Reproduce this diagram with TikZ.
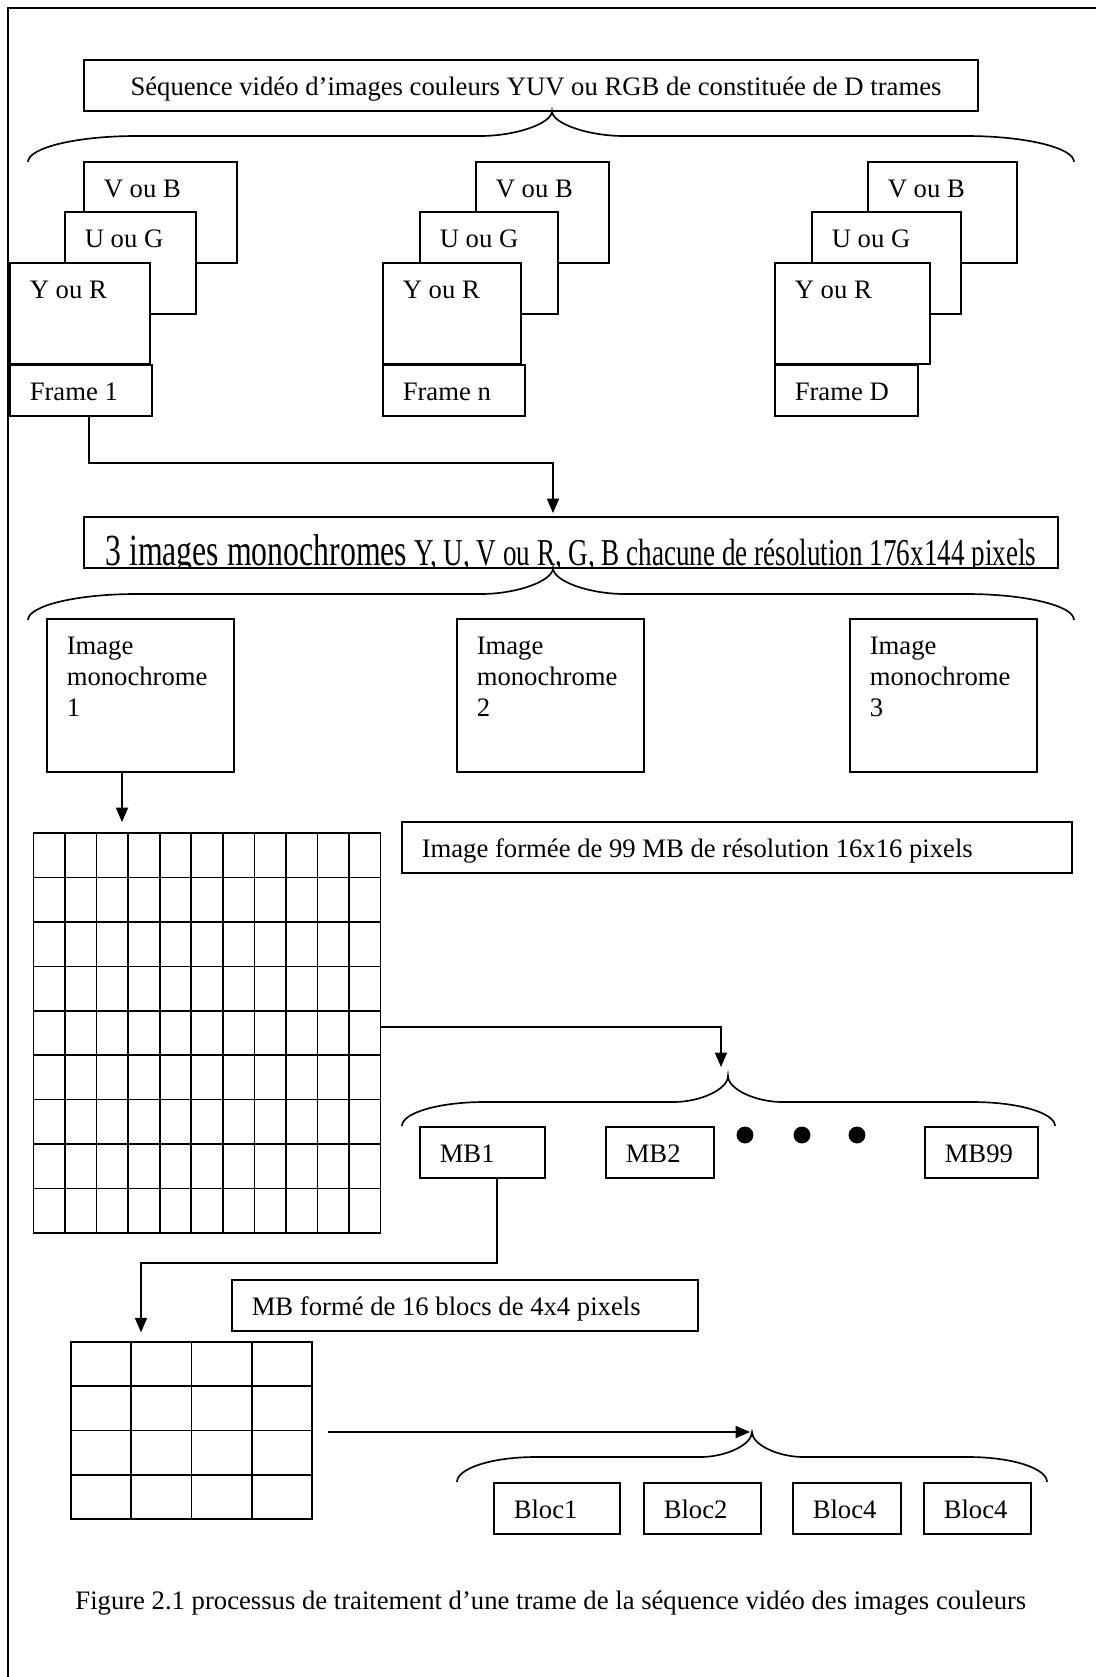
\documentclass[tikz,border=0pt]{standalone}
\usepackage{fontspec}
\setmainfont{Liberation Serif}
\usepackage{graphicx}
\usetikzlibrary{arrows.meta, fit}
\definecolor{traitColor}{RGB}{0, 0, 0}
\tikzset{
    boite_cadre/.style={
        draw=traitColor,
        fill=white,
        line width=0.6pt,
        inner sep=0pt
    },
    boite_texte/.style={
        anchor=base west,
        inner sep=0pt,
        font=\fontsize{12pt}{13.95pt}\selectfont
    },
    fleche/.style={
        -{Triangle[length=6.5pt, width=5.5pt]},
        line width=0.5pt,
        draw=traitColor
    },
    accolade_trait/.style={
        line width=0.75pt,
        draw=traitColor
    },
    grille_trait/.style={
        line width=0.75pt,
        draw=traitColor
    },
    point_noir/.style={
        circle,
        fill=traitColor,
        inner sep=0pt,
        minimum size=7.6pt
    }
}
% boite : nom, coin haut gauche, coin bas droit, texte
\newcommand{\boite}[4]{%
    \node[boite_cadre, fit={(#2) (#3)}] (#1) {};
    \node[boite_texte] (#1_t) at ([shift={(20,36)}]#1.north west) {#4};}
% accolade : gauche, pointe, droite, y pointe, y milieu, y bouts
\newcommand{\accolade}[6]{%
    \pgfmathsetmacro{\acBoutG}{40+0.13*(#2-#1)}%
    \pgfmathsetmacro{\acPointeG}{25+0.09*(#2-#1)}%
    \pgfmathsetmacro{\acBoutD}{40+0.13*(#3-#2)}%
    \pgfmathsetmacro{\acPointeD}{25+0.09*(#3-#2)}%
    \draw[accolade_trait] (#1,#6)
        .. controls (#1,{#5+0.45*(#6-#5)}) and ({#1+0.45*\acBoutG},#5) .. ({#1+\acBoutG},#5)
        -- ({#2-\acPointeG},#5)
        .. controls ({#2-0.5*\acPointeG},#5) and (#2,{#5-0.5*(#5-#4)}) .. (#2,#4)
        .. controls (#2,{#5-0.5*(#5-#4)}) and ({#2+0.5*\acPointeD},#5) .. ({#2+\acPointeD},#5)
        -- ({#3-\acBoutD},#5)
        .. controls ({#3-0.45*\acBoutD},#5) and (#3,{#5+0.45*(#6-#5)}) .. (#3,#6);}

\begin{document}
\begin{tikzpicture}[x=0.45pt, y=-0.45pt]
    \useasboundingbox (0,0) rectangle (1095,1677);
    % cadre de la page
    \draw[line width=0.6pt, draw=traitColor] (8,1690) -- (8,8) -- (1110,8);

    % sequence video
    \node[boite_cadre, fit={(84,60) (978,111)}] (sequence) {};
    \node[boite_texte, anchor=base] (sequence_t) at (536,95) {Séquence vidéo d’images couleurs YUV ou RGB de constituée de D trames};
    \accolade{28}{552}{1074}{111}{136}{162}

    % trames
    \boite{v1}{84,162}{237,263}{V ou B}
    \boite{u1}{65,212}{196,314}{U ou G}
    \boite{y1}{10,263}{150,364}{Y ou R}
    \boite{frame1}{10,365}{152,416}{Frame 1}

    \boite{vn}{476,162}{609,263}{V ou B}
    \boite{un}{420,212}{558,314}{U ou G}
    \boite{yn}{383,263}{521,364}{Y ou R}
    \boite{framen}{383,365}{525,416}{Frame n}

    \boite{vd}{868,162}{1017,263}{V ou B}
    \boite{ud}{812,212}{961,314}{U ou G}
    \boite{yd}{775,263}{930,364}{Y ou R}
    \boite{framed}{775,365}{918,416}{Frame D}

    % images monochromes
    \node[boite_cadre, fit={(84,517) (1058,568)}] (monos) {};
    \begin{scope}
        \clip (85,518) rectangle (1057,567);
        \node[boite_texte] (monos_t) at (105,565) {\scalebox{1}[1.4]{\fontsize{14.3pt}{16pt}\selectfont 3 images monochromes\fontsize{12.2pt}{14pt}\selectfont{} Y, U, V ou R, G, B chacune de résolution 176x144 pixels}};
    \end{scope}

    \coordinate (coude1) at (89,463);
    \coordinate (coude2) at (553,463);
    \draw[fleche, shorten >=1.5pt] (frame1.south -| coude1) -- (coude1) -- (coude2) -- (coude2 |- monos.north);

    \accolade{28}{553}{1074}{568}{594}{620}

    \node[boite_cadre, fit={(47,619) (234,772)}] (mono1) {};
    \node[boite_texte, anchor=north west, align=left] (mono1_t) at ([shift={(20,18.5)}]mono1.north west) {Image\\monochrome\\1};
    \node[boite_cadre, fit={(457,619) (644,772)}] (mono2) {};
    \node[boite_texte, anchor=north west, align=left] (mono2_t) at ([shift={(20,18.5)}]mono2.north west) {Image\\monochrome\\2};
    \node[boite_cadre, fit={(850,619) (1037,772)}] (mono3) {};
    \node[boite_texte, anchor=north west, align=left] (mono3_t) at ([shift={(20,18.5)}]mono3.north west) {Image\\monochrome\\3};

    % grille des 99 MB
    \node[boite_cadre, line width=0.75pt, fit={(33.5,833) (380.5,1233)}] (grille) {};
    \foreach \i in {1,...,10}
        \draw[grille_trait] ({33.5+31.55*\i},833) -- ({33.5+31.55*\i},1233);
    \foreach \j in {1,...,8}
        \draw[grille_trait] (33.5,{833+44.44*\j}) -- (380.5,{833+44.44*\j});

    \coordinate (coude3) at (122,822);
    \draw[fleche] (mono1.south -| coude3) -- (coude3);

    \boite{formee}{402,822}{1072,873}{Image formée de 99 MB de résolution 16x16 pixels}

    \coordinate (coude4) at (721,1027);
    \coordinate (pointe4) at (721,1067);
    \draw[fleche] (grille.east |- coude4) -- (coude4) -- (pointe4);

    \accolade{402}{728}{1055}{1076}{1102}{1126}

    \boite{mb1}{420,1127}{545,1178}{MB1}
    \boite{mb2}{606,1127}{714,1178}{MB2}
    \boite{mb99}{925,1127}{1038,1178}{MB99}
    \node[point_noir] (p1) at (745,1135) {};
    \node[point_noir] (p2) at (802,1135) {};
    \node[point_noir] (p3) at (857,1135) {};

    % grille des 16 blocs
    \node[boite_cadre, line width=0.75pt, fit={(71,1342) (312,1519)}] (petit) {};
    \foreach \i in {1,...,3}
        \draw[grille_trait] ({71+60.25*\i},1342) -- ({71+60.25*\i},1519);
    \foreach \j in {1,...,3}
        \draw[grille_trait] (71,{1342+44.25*\j}) -- (312,{1342+44.25*\j});

    \coordinate (coude5) at (497,1263);
    \coordinate (coude6) at (141,1263);
    \draw[fleche, shorten >=4pt] (mb1.south -| coude5) -- (coude5) -- (coude6) -- (coude6 |- petit.north);

    \boite{mbforme}{232,1280}{698,1331}{MB formé de 16 blocs de 4x4 pixels}

    \coordinate (pointe_bloc) at (750,1432);
    \draw[fleche, shorten <=6.75pt] (petit.east |- pointe_bloc) -- (pointe_bloc);

    \accolade{457}{752}{1047}{1432}{1457}{1482}

    \boite{bloc1}{494,1483}{620,1534}{Bloc1}
    \boite{bloc2}{644,1483}{761,1534}{Bloc2}
    \boite{bloc3}{793,1483}{901,1534}{Bloc4}
    \boite{bloc4}{924,1483}{1031,1534}{Bloc4}

    % legende
    \node[boite_texte] (legende) at (75,1609) {Figure 2.1 processus de traitement d’une trame de la séquence vidéo des images couleurs};
\end{tikzpicture}
\end{document}
